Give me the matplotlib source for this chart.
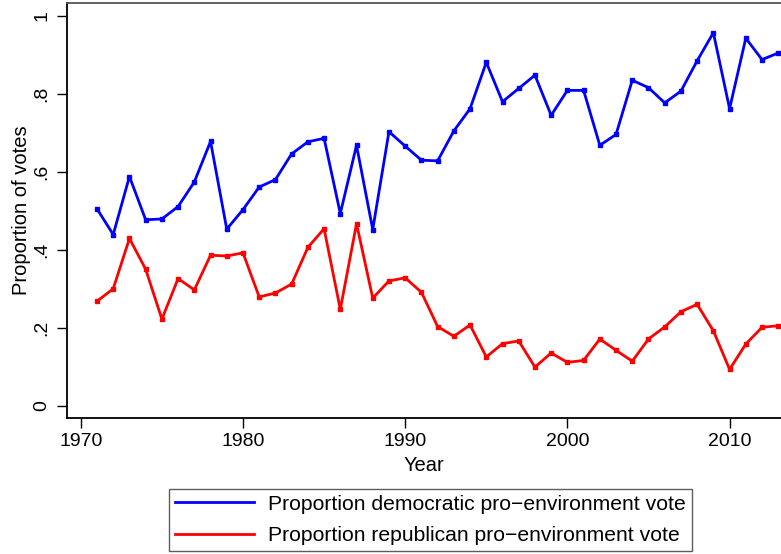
import matplotlib
matplotlib.use("Agg")
import matplotlib.pyplot as plt

plt.rcParams['font.family'] = ['Liberation Sans', 'DejaVu Sans']

years = list(range(1971, 2014))
dem_vote = [0.505, 0.439, 0.588, 0.477, 0.479, 0.511, 0.574, 0.678, 0.453, 0.503,
            0.561, 0.580, 0.646, 0.677, 0.686, 0.493, 0.668, 0.452, 0.703, 0.666,
            0.630, 0.628, 0.705, 0.762, 0.881, 0.780, 0.814, 0.848, 0.745, 0.809,
            0.809, 0.668, 0.696, 0.835, 0.816, 0.777, 0.807, 0.885, 0.957, 0.762,
            0.943, 0.888, 0.905]
rep_vote = [0.268, 0.300, 0.429, 0.350, 0.222, 0.326, 0.297, 0.386, 0.384, 0.392,
            0.279, 0.289, 0.312, 0.406, 0.454, 0.247, 0.467, 0.276, 0.320, 0.328,
            0.291, 0.203, 0.178, 0.207, 0.125, 0.159, 0.166, 0.099, 0.135, 0.111,
            0.116, 0.171, 0.142, 0.114, 0.171, 0.202, 0.241, 0.260, 0.192, 0.093,
            0.158, 0.201, 0.205]

xticks = [1970, 1980, 1990, 2000, 2010]
yticks = [0, 0.2, 0.4, 0.6, 0.8, 1.0]
ytick_labels = ["0", ".2", ".4", ".6", ".8", "1"]

fig = plt.figure(figsize=(7.81, 5.54), dpi=100)
ax = fig.add_axes([0.0862, 0.246, 1.0 - 0.0862, 0.9937 - 0.246])

ax.plot(years, dem_vote, color=(0, 0, 1), lw=2, marker='s', ms=2.3,
        label="Proportion democratic pro\u2212environment vote")
ax.plot(years, rep_vote, color=(1, 0, 0), lw=2, marker='s', ms=2.3,
        label="Proportion republican pro\u2212environment vote")

ax.set_xlim(1969.17, 2013.17)
ax.set_ylim(-0.031, 1.032)
ax.set_xticks(xticks)
ax.set_yticks(yticks)
ax.set_yticklabels(ytick_labels, rotation=90, va='center')
ax.tick_params(axis='both', direction='out', length=7, width=1, labelsize=14, colors='black')
ax.tick_params(axis='x', pad=4)
ax.tick_params(axis='y', pad=5)

ax.spines['right'].set_visible(False)
ax.spines['top'].set_color('#555555')
ax.spines['left'].set_linewidth(1.3)
ax.spines['bottom'].set_linewidth(1.3)
ax.spines['top'].set_linewidth(1.3)

ax.set_xlabel("Year", fontsize=14.5, labelpad=4)
ax.set_ylabel("Proportion of votes", fontsize=14.5, labelpad=2)

leg = fig.legend(loc='center', bbox_to_anchor=(0.551, 0.0614), fontsize=15.2,
                 handlelength=3.75, handletextpad=0.62, labelspacing=0.58,
                 frameon=True, fancybox=False, borderpad=0.3)
leg.get_frame().set_edgecolor('#333333')
leg.get_frame().set_linewidth(1.0)
for h in leg.legend_handles:
    h.set_marker('')

fig.savefig("out.png", dpi=100)
